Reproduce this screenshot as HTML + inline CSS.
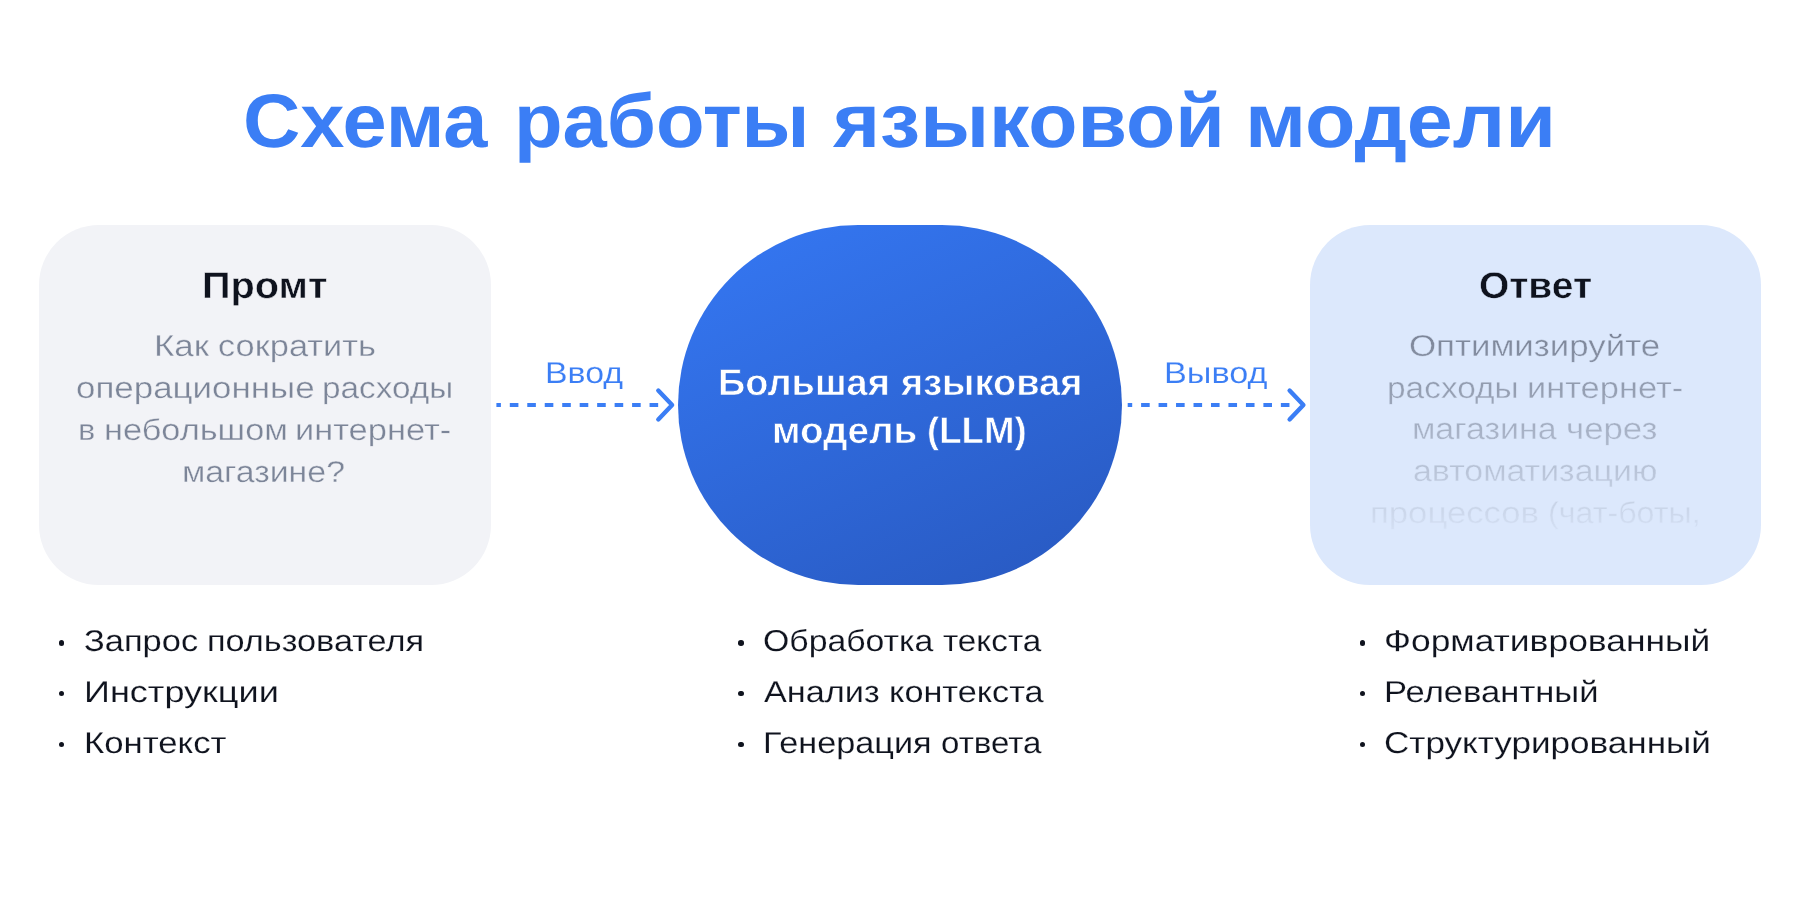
<!DOCTYPE html>
<html><head><meta charset="utf-8"><style>
html,body{margin:0;padding:0;background:#FFFFFF;}
body{width:1800px;height:900px;position:relative;overflow:hidden;font-family:"Liberation Sans",sans-serif;text-rendering:geometricPrecision;}
.t{position:absolute;white-space:nowrap;transform-origin:0 0;}
.box{position:absolute;top:225px;height:360px;border-radius:60px;}
.b1{left:39.1px;width:451.6px;background:#F2F3F7;}
.b2{left:1309.6px;width:451.3px;background:#DCE8FC;}
.circ{position:absolute;left:678px;top:225px;width:444px;height:360px;border-radius:180px;background:linear-gradient(155deg,#3578F4 0%,#2858BF 100%);}
.fade{position:absolute;left:1309.6px;top:225px;width:451.3px;height:323px;overflow:hidden;-webkit-mask-image:linear-gradient(to bottom,rgba(0,0,0,1) 0px,rgba(0,0,0,1) 110px,rgba(0,0,0,0) 322px);mask-image:linear-gradient(to bottom,rgba(0,0,0,1) 0px,rgba(0,0,0,1) 110px,rgba(0,0,0,0) 322px);}
.dot{position:absolute;width:5.6px;height:5.6px;border-radius:50%;background:#0F131E;}
.arr{position:absolute;left:0;top:0;}
</style></head><body>
<div class="box b1"></div>
<div class="box b2"></div>
<div class="circ"></div>
<svg class="arr" width="1800" height="900" viewBox="0 0 1800 900"><g fill="#3B7EF5"><rect x="496.40" y="403" width="4.5" height="4" /><rect x="509.80" y="403" width="8.6" height="4" /><rect x="527.27" y="403" width="8.6" height="4" /><rect x="544.74" y="403" width="8.6" height="4" /><rect x="562.21" y="403" width="8.6" height="4" /><rect x="579.68" y="403" width="8.6" height="4" /><rect x="597.15" y="403" width="8.6" height="4" /><rect x="614.62" y="403" width="8.6" height="4" /><rect x="632.09" y="403" width="8.6" height="4" /><rect x="649.56" y="403" width="8.6" height="4" /><path d="M658.30 390.6 L672.10 405 L658.30 419.4" fill="none" stroke="#3B7EF5" stroke-width="4.4" stroke-linecap="round" stroke-linejoin="round"/><rect x="1127.70" y="403" width="4.5" height="4" /><rect x="1141.10" y="403" width="8.6" height="4" /><rect x="1158.57" y="403" width="8.6" height="4" /><rect x="1176.04" y="403" width="8.6" height="4" /><rect x="1193.51" y="403" width="8.6" height="4" /><rect x="1210.98" y="403" width="8.6" height="4" /><rect x="1228.45" y="403" width="8.6" height="4" /><rect x="1245.92" y="403" width="8.6" height="4" /><rect x="1263.39" y="403" width="8.6" height="4" /><rect x="1280.86" y="403" width="8.6" height="4" /><path d="M1289.60 390.6 L1303.40 405 L1289.60 419.4" fill="none" stroke="#3B7EF5" stroke-width="4.4" stroke-linecap="round" stroke-linejoin="round"/></g></svg>
<div class="fade"><div class="t" style="left:99.37px;top:107.00px;font-size:30px;line-height:30px;font-weight:400;color:#7C8598;transform:scaleX(1.1617);-webkit-text-stroke:0.35px #DCE8FC;">Оптимизируйте</div><div class="t" style="left:77.55px;top:149.00px;font-size:30px;line-height:30px;font-weight:400;color:#7C8598;transform:scaleX(1.1140);-webkit-text-stroke:0.35px #DCE8FC;">расходы</div><div class="t" style="left:216.98px;top:149.00px;font-size:30px;line-height:30px;font-weight:400;color:#7C8598;transform:scaleX(1.1473);-webkit-text-stroke:0.35px #DCE8FC;">интернет-</div><div class="t" style="left:102.51px;top:190.00px;font-size:30px;line-height:30px;font-weight:400;color:#7C8598;transform:scaleX(1.1325);-webkit-text-stroke:0.35px #DCE8FC;">магазина</div><div class="t" style="left:256.67px;top:190.00px;font-size:30px;line-height:30px;font-weight:400;color:#7C8598;transform:scaleX(1.1603);-webkit-text-stroke:0.35px #DCE8FC;">через</div><div class="t" style="left:103.60px;top:232.00px;font-size:30px;line-height:30px;font-weight:400;color:#7C8598;transform:scaleX(1.1309);-webkit-text-stroke:0.35px #DCE8FC;">автоматизацию</div><div class="t" style="left:60.36px;top:274.00px;font-size:30px;line-height:30px;font-weight:400;color:#7C8598;transform:scaleX(1.1568);-webkit-text-stroke:0.35px #DCE8FC;">процессов</div><div class="t" style="left:238.88px;top:274.00px;font-size:30px;line-height:30px;font-weight:400;color:#7C8598;transform:scaleX(1.0728);-webkit-text-stroke:0.35px #DCE8FC;">(чат-боты,</div></div>
<div class="t" style="left:243.39px;top:84.00px;font-size:76px;line-height:76px;font-weight:700;color:#3B7EF5;transform:scaleX(1.0449);">Схема</div><div class="t" style="left:514.28px;top:84.00px;font-size:76px;line-height:76px;font-weight:700;color:#3B7EF5;transform:scaleX(1.0470);">работы</div><div class="t" style="left:832.98px;top:84.00px;font-size:76px;line-height:76px;font-weight:700;color:#3B7EF5;transform:scaleX(1.0610);">языковой</div><div class="t" style="left:1244.81px;top:84.00px;font-size:76px;line-height:76px;font-weight:700;color:#3B7EF5;transform:scaleX(1.0870);">модели</div><div class="t" style="left:202.49px;top:267.00px;font-size:37px;line-height:37px;font-weight:700;color:#0F131E;transform:scaleX(1.0736);-webkit-text-stroke:0.45px #F2F3F7;">Промт</div><div class="t" style="left:1478.95px;top:267.00px;font-size:37px;line-height:37px;font-weight:700;color:#0F131E;transform:scaleX(1.0527);-webkit-text-stroke:0.45px #DCE8FC;">Ответ</div><div class="t" style="left:154.19px;top:332.00px;font-size:30px;line-height:30px;font-weight:400;color:#7C8598;transform:scaleX(1.1657);-webkit-text-stroke:0.35px #F2F3F7;">Как</div><div class="t" style="left:218.08px;top:332.00px;font-size:30px;line-height:30px;font-weight:400;color:#7C8598;transform:scaleX(1.1469);-webkit-text-stroke:0.35px #F2F3F7;">сократить</div><div class="t" style="left:75.87px;top:374.00px;font-size:30px;line-height:30px;font-weight:400;color:#7C8598;transform:scaleX(1.1642);-webkit-text-stroke:0.35px #F2F3F7;">операционные</div><div class="t" style="left:322.46px;top:374.00px;font-size:30px;line-height:30px;font-weight:400;color:#7C8598;transform:scaleX(1.1114);-webkit-text-stroke:0.35px #F2F3F7;">расходы</div><div class="t" style="left:77.70px;top:416.00px;font-size:30px;line-height:30px;font-weight:400;color:#7C8598;transform:scaleX(1.0848);-webkit-text-stroke:0.35px #F2F3F7;">в</div><div class="t" style="left:103.69px;top:416.00px;font-size:30px;line-height:30px;font-weight:400;color:#7C8598;transform:scaleX(1.1445);-webkit-text-stroke:0.35px #F2F3F7;">небольшом</div><div class="t" style="left:295.08px;top:416.00px;font-size:30px;line-height:30px;font-weight:400;color:#7C8598;transform:scaleX(1.1473);-webkit-text-stroke:0.35px #F2F3F7;">интернет-</div><div class="t" style="left:182.32px;top:458.00px;font-size:30px;line-height:30px;font-weight:400;color:#7C8598;transform:scaleX(1.1286);-webkit-text-stroke:0.35px #F2F3F7;">магазине?</div><div class="t" style="left:544.83px;top:359.00px;font-size:30px;line-height:30px;font-weight:400;color:#3B7EF5;transform:scaleX(1.1290);-webkit-text-stroke:0.15px #FFFFFF;">Ввод</div><div class="t" style="left:1163.75px;top:359.00px;font-size:30px;line-height:30px;font-weight:400;color:#3B7EF5;transform:scaleX(1.1424);-webkit-text-stroke:0.15px #FFFFFF;">Вывод</div><div class="t" style="left:717.75px;top:364.00px;font-size:37px;line-height:37px;font-weight:700;color:#FFFFFF;transform:scaleX(1.0253);-webkit-text-stroke:0.6px #2F68D6;">Большая</div><div class="t" style="left:901.22px;top:364.00px;font-size:37px;line-height:37px;font-weight:700;color:#FFFFFF;transform:scaleX(1.0264);-webkit-text-stroke:0.6px #2F68D6;">языковая</div><div class="t" style="left:771.65px;top:412.00px;font-size:37px;line-height:37px;font-weight:700;color:#FFFFFF;transform:scaleX(1.0430);-webkit-text-stroke:0.6px #2F68D6;">модель</div><div class="t" style="left:926.82px;top:412.00px;font-size:37px;line-height:37px;font-weight:700;color:#FFFFFF;transform:scaleX(0.9893);-webkit-text-stroke:0.6px #2F68D6;">(LLM)</div><div class="t" style="left:84.09px;top:627.00px;font-size:30px;line-height:30px;font-weight:400;color:#0F131E;transform:scaleX(1.1481);-webkit-text-stroke:0.15px #FFFFFF;">Запрос</div><div class="t" style="left:206.80px;top:627.00px;font-size:30px;line-height:30px;font-weight:400;color:#0F131E;transform:scaleX(1.1423);-webkit-text-stroke:0.15px #FFFFFF;">пользователя</div><div class="t" style="left:83.79px;top:678.00px;font-size:30px;line-height:30px;font-weight:400;color:#0F131E;transform:scaleX(1.2022);-webkit-text-stroke:0.15px #FFFFFF;">Инструкции</div><div class="t" style="left:83.91px;top:729.00px;font-size:30px;line-height:30px;font-weight:400;color:#0F131E;transform:scaleX(1.1585);-webkit-text-stroke:0.15px #FFFFFF;">Контекст</div><div class="t" style="left:762.94px;top:627.00px;font-size:30px;line-height:30px;font-weight:400;color:#0F131E;transform:scaleX(1.1261);-webkit-text-stroke:0.15px #FFFFFF;">Обработка</div><div class="t" style="left:942.62px;top:627.00px;font-size:30px;line-height:30px;font-weight:400;color:#0F131E;transform:scaleX(1.1084);-webkit-text-stroke:0.15px #FFFFFF;">текста</div><div class="t" style="left:764.24px;top:678.00px;font-size:30px;line-height:30px;font-weight:400;color:#0F131E;transform:scaleX(1.1424);-webkit-text-stroke:0.15px #FFFFFF;">Анализ</div><div class="t" style="left:888.61px;top:678.00px;font-size:30px;line-height:30px;font-weight:400;color:#0F131E;transform:scaleX(1.1422);-webkit-text-stroke:0.15px #FFFFFF;">контекста</div><div class="t" style="left:763.35px;top:729.00px;font-size:30px;line-height:30px;font-weight:400;color:#0F131E;transform:scaleX(1.1412);-webkit-text-stroke:0.15px #FFFFFF;">Генерация</div><div class="t" style="left:940.63px;top:729.00px;font-size:30px;line-height:30px;font-weight:400;color:#0F131E;transform:scaleX(1.1029);-webkit-text-stroke:0.15px #FFFFFF;">ответа</div><div class="t" style="left:1383.69px;top:627.00px;font-size:30px;line-height:30px;font-weight:400;color:#0F131E;transform:scaleX(1.1807);-webkit-text-stroke:0.15px #FFFFFF;">Формативрованный</div><div class="t" style="left:1384.02px;top:678.00px;font-size:30px;line-height:30px;font-weight:400;color:#0F131E;transform:scaleX(1.1529);-webkit-text-stroke:0.15px #FFFFFF;">Релевантный</div><div class="t" style="left:1383.87px;top:729.00px;font-size:30px;line-height:30px;font-weight:400;color:#0F131E;transform:scaleX(1.1695);-webkit-text-stroke:0.15px #FFFFFF;">Структурированный</div>
<div class="dot" style="left:58.9px;top:640.0px"></div><div class="dot" style="left:58.9px;top:690.9px"></div><div class="dot" style="left:58.9px;top:741.8px"></div><div class="dot" style="left:738.0px;top:640.0px"></div><div class="dot" style="left:738.0px;top:690.9px"></div><div class="dot" style="left:738.0px;top:741.8px"></div><div class="dot" style="left:1359.7px;top:640.0px"></div><div class="dot" style="left:1359.7px;top:690.9px"></div><div class="dot" style="left:1359.7px;top:741.8px"></div>
</body></html>
